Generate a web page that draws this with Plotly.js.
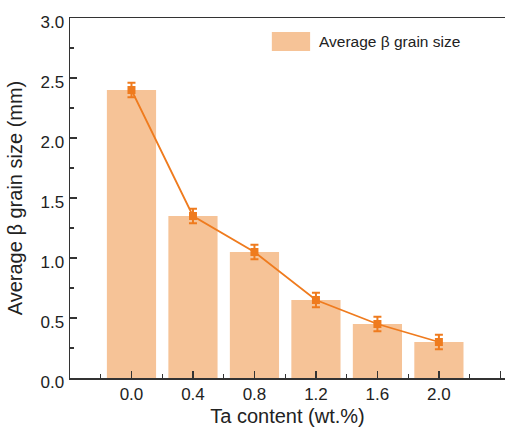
<!DOCTYPE html>
<html>
<head>
<meta charset="utf-8">
<script src="https://cdn.plot.ly/plotly-3.0.1.min.js"></script>
<style>html,body{margin:0;padding:0;background:#fff;}#chart{width:505px;height:430px;}</style>
</head>
<body>
<div id="chart"></div>
<script>
// Data
const taContent = [0.0, 0.4, 0.8, 1.2, 1.6, 2.0];
const grainSize = [2.40, 1.35, 1.05, 0.65, 0.45, 0.30];
const grainErr = [0.06, 0.06, 0.06, 0.06, 0.06, 0.06];
const xTickVals = [0.0, 0.4, 0.8, 1.2, 1.6, 2.0, 2.4];
const xTickText = ['0.0', '0.4', '0.8', '1.2', '1.6', '2.0', ''];
const xMinorVals = [-0.2, 0.2, 0.6, 1.0, 1.4, 1.8, 2.2];
const yTickVals = [0.0, 0.5, 1.0, 1.5, 2.0, 2.5, 3.0];
const yTickText = ['0.0', '0.5', '1.0', '1.5', '2.0', '2.5', '3.0'];
const legendLabel = 'Average β grain size';

const barColor = '#f6c397';
const lineColor = '#ef7b1e';
const axisColor = '#333333';
const font = 'Liberation Sans, Arial, sans-serif';

const traces = [
  {
    type: 'bar', x: taContent, y: grainSize, width: 0.32,
    marker: {color: barColor, line: {width: 0}},
    name: legendLabel, showlegend: false, hoverinfo: 'skip'
  },
  {
    type: 'scatter', mode: 'lines+markers', x: taContent, y: grainSize,
    line: {color: lineColor, width: 1.8},
    marker: {color: lineColor, symbol: 'square', size: 8},
    error_y: {type: 'data', array: grainErr, visible: true, color: lineColor, thickness: 2, width: 4},
    showlegend: false
  }
];

const layout = {
  width: 505, height: 430,
  margin: {l: 70, r: 0, t: 18, b: 52},
  paper_bgcolor: '#fff', plot_bgcolor: '#fff',
  font: {family: font, color: '#222', size: 17},
  showlegend: false,
  xaxis: {
    range: [-0.4, 2.43], showgrid: false, zeroline: false,
    showline: true, linecolor: axisColor, linewidth: 1.5, mirror: true,
    tickmode: 'array', tickvals: xTickVals, ticktext: xTickText,
    ticks: 'inside', ticklen: 7, tickwidth: 1.3, tickcolor: axisColor,
    tickfont: {size: 17, family: font, color: '#222'},
    minor: {tickmode: 'array', tickvals: xMinorVals, ticks: 'inside', ticklen: 4, tickwidth: 1.2, tickcolor: axisColor, showgrid: false},
    title: {text: 'Ta content (wt.%)', font: {size: 20, family: font, color: '#222'}, standoff: 6}
  },
  yaxis: {
    range: [0, 3.0], showgrid: false, zeroline: false,
    showline: true, linecolor: axisColor, linewidth: 1.5, mirror: false,
    tickmode: 'array', tickvals: yTickVals, ticktext: yTickText,
    ticks: 'inside', ticklen: 7, tickwidth: 1.3, tickcolor: axisColor,
    ticklabelshift: 4, ticklabelstandoff: 1,
    tickfont: {size: 17, family: font, color: '#222'},
    minor: {dtick: 0.25, tick0: 0, ticks: 'inside', ticklen: 4, tickwidth: 1.2, tickcolor: axisColor, showgrid: false},
    title: {text: 'Average β grain size (mm)', font: {size: 20, family: font, color: '#222'}, standoff: 12}
  },
  shapes: [
    {type: 'rect', xref: 'paper', yref: 'paper', x0: 0.464, x1: 0.552, y0: 0.908, y1: 0.961,
     fillcolor: barColor, line: {width: 0}}
  ],
  annotations: [
    {xref: 'paper', yref: 'paper', x: 0.568, y: 0.935, xanchor: 'left', yanchor: 'middle',
     text: legendLabel, showarrow: false, font: {size: 15.5, family: font, color: '#222'}}
  ]
};

Plotly.newPlot('chart', traces, layout, {displayModeBar: false, staticPlot: true});
</script>
</body>
</html>
